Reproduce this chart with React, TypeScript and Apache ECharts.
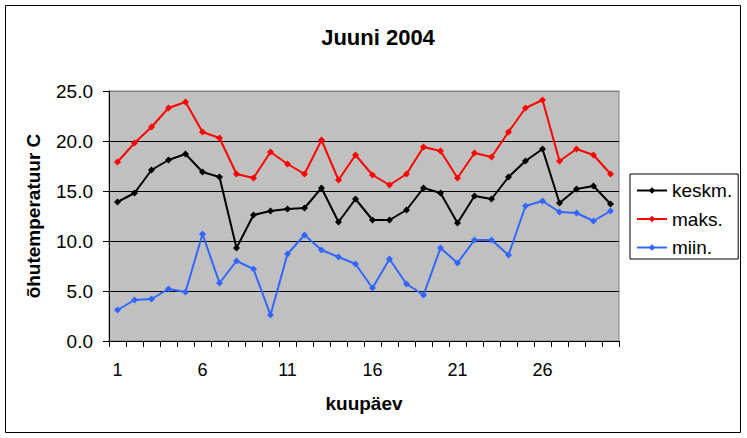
import { useEffect, useRef } from 'react'
import * as echarts from 'echarts'

// June 2004 daily air temperatures
const days = Array.from({ length: 30 }, (_, i) => String(i + 1))
const keskm = [13.9, 14.8, 17.1, 18.1, 18.7, 16.9, 16.4, 9.3, 12.6, 13.0, 13.2, 13.3, 15.3, 11.9, 14.2, 12.1, 12.1, 13.1, 15.3, 14.8, 11.8, 14.5, 14.2, 16.4, 18.0, 19.2, 13.8, 15.2, 15.5, 13.7]
const maks = [17.9, 19.8, 21.4, 23.3, 23.9, 20.9, 20.3, 16.7, 16.3, 18.9, 17.7, 16.7, 20.1, 16.1, 18.6, 16.6, 15.6, 16.7, 19.4, 19.0, 16.3, 18.8, 18.4, 20.9, 23.3, 24.1, 18.0, 19.2, 18.6, 16.7]
const miin = [3.1, 4.1, 4.2, 5.2, 4.9, 10.7, 5.8, 8.0, 7.2, 2.6, 8.7, 10.6, 9.1, 8.4, 7.7, 5.3, 8.2, 5.7, 4.6, 9.3, 7.8, 10.1, 10.1, 8.6, 13.5, 14.0, 12.9, 12.8, 12.0, 13.0]

const FONT = 'Arial, "Liberation Sans", sans-serif'

function lineSeries(name: string, data: number[], color: string) {
  return {
    name,
    type: 'line',
    data,
    symbol: 'diamond',
    symbolSize: 7,
    lineStyle: { color, width: 2 },
    itemStyle: { color },
  }
}

export default function App() {
  const ref = useRef<HTMLDivElement>(null)

  useEffect(() => {
    if (!ref.current) return
    const chart = echarts.init(ref.current, null, { renderer: 'svg' })

    chart.setOption({
      animation: false,
      backgroundColor: '#ffffff',
      textStyle: { fontFamily: FONT },
      title: {
        text: 'Juuni 2004',
        left: 373,
        top: 21,
        textAlign: 'center',
        textStyle: { fontSize: 22, fontWeight: 'bold', color: '#000', fontFamily: FONT },
      },
      graphic: [
        {
          type: 'rect',
          shape: { x: 5.5, y: 5.5, width: 735, height: 427 },
          style: { fill: 'none', stroke: '#000', lineWidth: 1 },
          silent: true,
        },
      ],
      grid: {
        left: 109,
        top: 91,
        width: 510,
        height: 250,
        show: true,
        backgroundColor: '#c0c0c0',
        borderColor: '#808080',
        borderWidth: 1,
      },
      legend: {
        orient: 'vertical',
        left: 630,
        top: 174,
        padding: [7, 6, 2, 6],
        itemWidth: 30,
        itemHeight: 8,
        itemGap: 9.5,
        backgroundColor: '#ffffff',
        borderColor: '#000',
        borderWidth: 1,
        borderRadius: 0,
        textStyle: { fontSize: 19, lineHeight: 19, color: '#000', fontFamily: FONT },
        data: ['keskm.', 'maks.', 'miin.'],
      },
      xAxis: {
        type: 'category',
        data: days,
        boundaryGap: true,
        name: 'kuupäev',
        nameLocation: 'middle',
        nameGap: 53,
        nameTextStyle: { fontSize: 19, fontWeight: 'bold', color: '#000', fontFamily: FONT },
        axisLine: { lineStyle: { color: '#000', width: 1 } },
        axisTick: { show: true, length: 6, interval: 0, lineStyle: { color: '#000' } },
        axisLabel: { interval: 4, fontSize: 18, color: '#000', margin: 20, fontFamily: FONT },
        splitLine: { show: false },
      },
      yAxis: {
        type: 'value',
        min: 0,
        max: 25,
        interval: 5,
        name: 'õhutemperatuur C',
        nameLocation: 'middle',
        nameGap: 66,
        nameRotate: 90,
        nameTextStyle: { fontSize: 19, fontWeight: 'bold', color: '#000', fontFamily: FONT },
        axisLine: { show: true, lineStyle: { color: '#000', width: 1 } },
        axisTick: { show: true, length: 6, lineStyle: { color: '#000' } },
        axisLabel: {
          fontSize: 19,
          color: '#000',
          margin: 16,
          fontFamily: FONT,
          formatter: (v: number) => v.toFixed(1),
        },
        splitLine: {
          show: true,
          lineStyle: { color: ['#000', '#000', '#000', '#000', '#000', '#808080'], width: 1 },
        },
      },
      series: [
        lineSeries('keskm.', keskm, '#000000'),
        lineSeries('maks.', maks, '#ff0000'),
        lineSeries('miin.', miin, '#3366ff'),
      ],
    })

    return () => {
      chart.dispose()
    }
  }, [])

  return (
    <div
      ref={ref}
      style={{ position: 'fixed', left: 0, top: 0, width: 747, height: 438 }}
    />
  )
}
